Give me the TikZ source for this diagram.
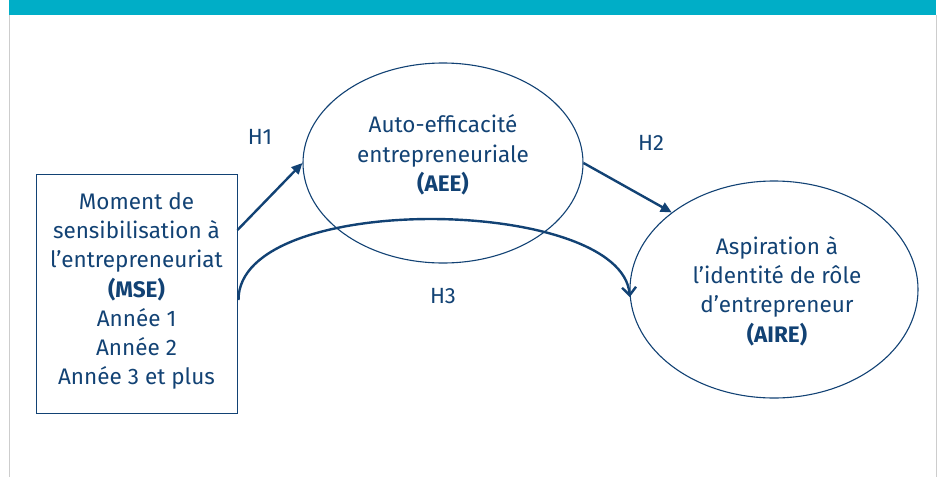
\documentclass[tikz,border=0pt]{standalone}
\usepackage{fontspec}
\setmainfont{Fira Sans}
\usetikzlibrary{arrows.meta,shapes.geometric}
\definecolor{teal}{RGB}{0,174,199}
\definecolor{navy}{RGB}{18,66,116}
\definecolor{framegrey}{RGB}{205,205,205}
\begin{document}
\begin{tikzpicture}[x=1pt,y=-1pt,
  txt/.style={text=navy,font=\fontsize{22.5}{29.3}\selectfont,align=center},
  ell/.style={draw=navy,line width=1.1pt,ellipse,inner sep=0pt},
  link/.style={draw=navy,line width=2.4pt,-{Triangle[length=11pt,width=10pt]}},
  lab/.style={text=navy,font=\fontsize{22}{25}\selectfont}]
\useasboundingbox (0,0) rectangle (942,477);
\fill[teal] (9,0) rectangle (936,15);
\draw[framegrey,line width=0.8pt] (9,15) -- (9,477);
\draw[framegrey,line width=0.8pt] (936,15) -- (936,477);
% box
\node[draw=navy,line width=1pt,minimum width=201pt,minimum height=239pt,inner sep=0pt] (mse) at (136.5,293.5) {};
\node[txt] (msetxt) at (136.5,291) {Moment de\\sensibilisation à\\l’entrepreneuriat\\\textbf{(MSE)}\\Année 1\\Année 2\\Année 3 et plus};
% ellipses
\node[ell,minimum width=280pt,minimum height=200pt] (aee) at (443,163) {};
\node[txt] (aeetxt) at (443,155) {Auto-efficacité\\entrepreneuriale\\\textbf{(AEE)}};
\node[ell,minimum width=288pt,minimum height=217pt] (aire) at (774,289.5) {};
\node[txt] (airetxt) at (777,291) {Aspiration à\\l’identité de rôle\\d’entrepreneur\\\textbf{(AIRE)}};
% connectors
\coordinate (h1s) at (237.5,230);
\coordinate (h3s) at (238.5,300);
\draw[link] (h1s) -- (aee.west);
\draw[link] (aee.east) -- (aire.143);
\draw[navy,line width=2.4pt,-{Straight Barb[length=8pt,width=14pt]}] (h3s) .. controls (238,190) and (622,196) .. (aire.183);
% labels
\node[lab] (h1) at (260,137) {H1};
\node[lab] (h2) at (651,143) {H2};
\node[lab] (h3) at (443,296) {H3};
\end{tikzpicture}
\end{document}
